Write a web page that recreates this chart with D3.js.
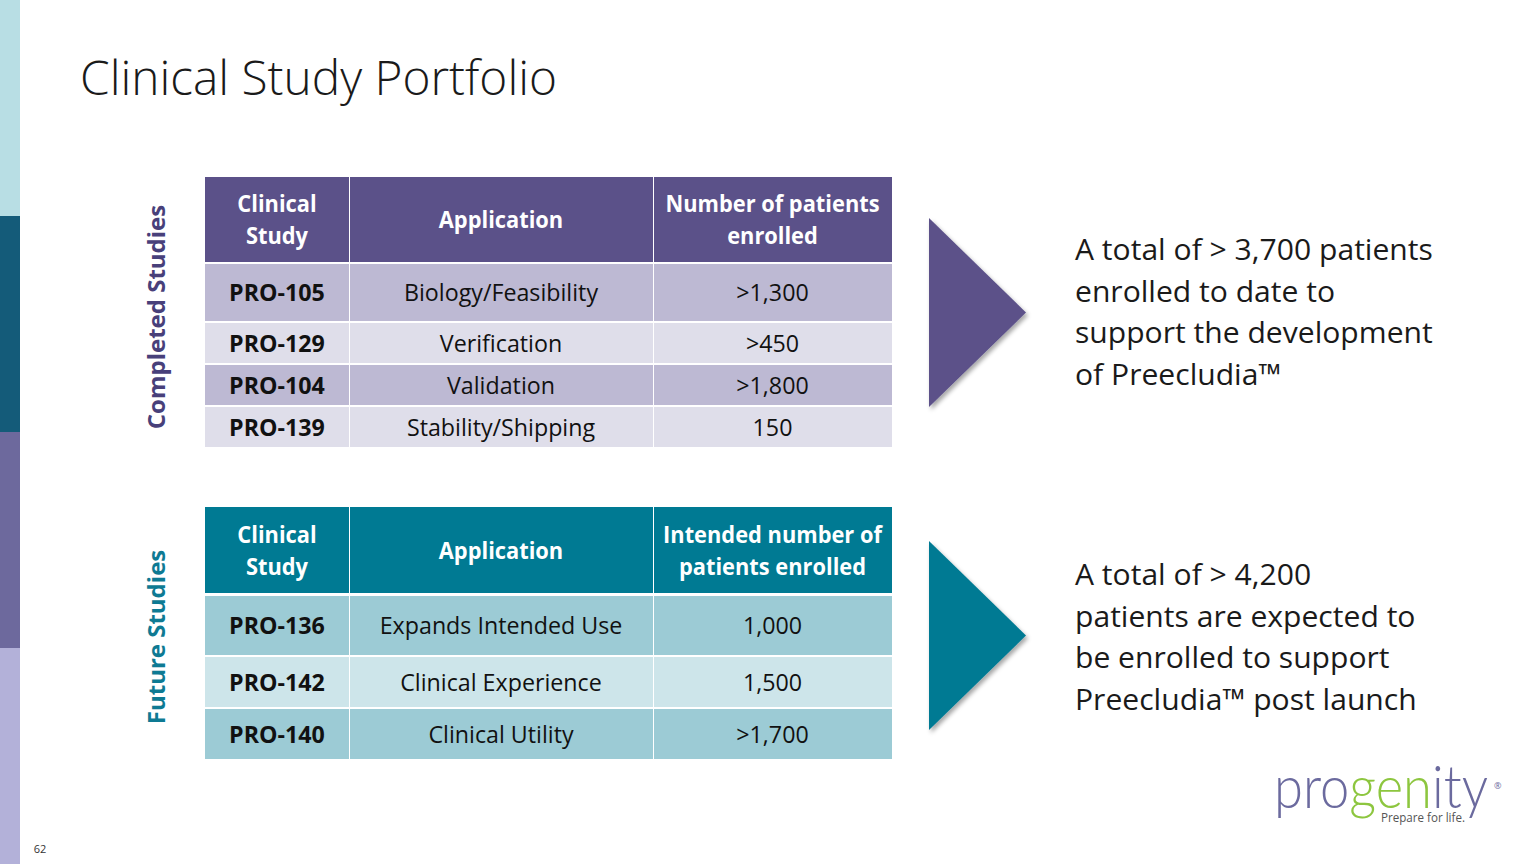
<!DOCTYPE html>
<html><head><meta charset="utf-8">
<script src="https://cdn.jsdelivr.net/npm/d3@7/dist/d3.min.js"></script>
<style>html,body{margin:0;padding:0;background:#fff;overflow:hidden}</style>
</head><body><svg id="c" width="1536" height="864"></svg>
<script>
// ---------- data ----------
const headersCompleted = [["Clinical","Study"],["Application"],["Number of patients","enrolled"]];
const completedStudies = ["PRO-105","PRO-129","PRO-104","PRO-139"];
const completedApps = ["Biology/Feasibility","Verification","Validation","Stability/Shipping"];
const completedPatients = [">1,300",">450",">1,800","150"];

const headersFuture = [["Clinical","Study"],["Application"],["Intended number of","patients enrolled"]];
const futureStudies = ["PRO-136","PRO-142","PRO-140"];
const futureApps = ["Expands Intended Use","Clinical Experience","Clinical Utility"];
const futurePatients = ["1,000","1,500",">1,700"];

const summaryCompleted = ["A total of > 3,700 patients","enrolled to date to","support the development","of Preecludia\u2122"];
const summaryFuture = ["A total of > 4,200","patients are expected to","be enrolled to support","Preecludia\u2122 post launch"];

const title = "Clinical Study Portfolio";
const sideLabels = ["Completed Studies","Future Studies"];
const pageNumber = "62";

// ---------- drawing ----------
const svg = d3.select("#c");
const FONT = "'Open Sans', 'Noto Sans', sans-serif";

function condense(sel, f) {
  sel.each(function () {
    const w = this.getComputedTextLength();
    d3.select(this).attr("textLength", w * f).attr("lengthAdjust", "spacingAndGlyphs");
  });
}

const defs = svg.append("defs");
const flt = defs.append("filter").attr("id", "sh").attr("x", "-20%").attr("y", "-20%").attr("width", "150%").attr("height", "150%");
flt.append("feDropShadow").attr("dx", 2).attr("dy", 3).attr("stdDeviation", 2).attr("flood-color", "#000").attr("flood-opacity", 0.35);

// left colour strip
const stripColors = ["#b8dee4", "#145b79", "#6d699d", "#b3b1d9"];
const stripY = d3.scaleBand().domain(d3.range(stripColors.length)).range([0, 864]);
svg.selectAll("rect.strip").data(stripColors).join("rect")
  .attr("x", 0).attr("y", (d, i) => stripY(i)).attr("width", 20).attr("height", stripY.bandwidth())
  .attr("fill", d => d);

// title
svg.append("text").attr("x", 80).attr("y", 95).text(title)
  .attr("font-family", FONT).attr("font-weight", 300).attr("font-size", 47).attr("fill", "#1a1a1a")
  .attr("textLength", 477).attr("lengthAdjust", "spacingAndGlyphs");

// page number
svg.append("text").attr("x", 40).attr("y", 853).attr("text-anchor", "middle").text(pageNumber)
  .attr("font-family", FONT).attr("font-size", 11).attr("fill", "#333");

// table builder
function table(cfg) {
  const g = svg.append("g");
  const colX = cfg.colEdges;
  const cols = d3.range(3);
  g.selectAll("rect.h").data(cols).join("rect")
    .attr("x", i => colX[i] + (i ? 1 : 0)).attr("y", cfg.headerY[0])
    .attr("width", i => colX[i + 1] - colX[i] - (i ? 1 : 0)).attr("height", cfg.headerY[1] - cfg.headerY[0])
    .attr("fill", cfg.headerColor);
  cols.forEach(i => {
    const lines = cfg.headers[i];
    const cx = (colX[i] + colX[i + 1]) / 2;
    const cy = (cfg.headerY[0] + cfg.headerY[1]) / 2;
    const lh = 32;
    const t = g.append("text").attr("text-anchor", "middle").attr("font-family", FONT)
      .attr("font-weight", 700).attr("font-size", 22.5).attr("fill", "#fff");
    lines.forEach((ln, k) => {
      t.append("tspan").attr("x", cx).attr("y", cy + 8.5 + (k - (lines.length - 1) / 2) * lh).text(ln);
    });
    t.selectAll("tspan").call(condense, 0.97);
  });
  const rows = cfg.studies.map((s, r) => ({ r, cells: [s, cfg.apps[r], cfg.patients[r]] }));
  rows.forEach(row => {
    const [y0, y1] = cfg.rowY[row.r];
    cols.forEach(i => {
      g.append("rect").attr("x", colX[i] + (i ? 1 : 0)).attr("y", y0)
        .attr("width", colX[i + 1] - colX[i] - (i ? 1 : 0)).attr("height", y1 - y0)
        .attr("fill", cfg.rowColors[row.r % 2]);
      g.append("text").attr("x", (colX[i] + colX[i + 1]) / 2).attr("y", (y0 + y1) / 2 + 8.5)
        .attr("text-anchor", "middle").attr("font-family", FONT)
        .attr("font-weight", i === 0 ? 700 : 400).attr("font-size", 23).attr("fill", "#111")
        .text(row.cells[i]).call(condense, 1.01);
    });
  });
}

table({
  colEdges: [205, 349, 653, 892],
  headerY: [177, 262],
  rowY: [[264, 321], [323, 363], [365, 405], [407, 447]],
  headers: headersCompleted,
  studies: completedStudies, apps: completedApps, patients: completedPatients,
  headerColor: "#5b5189",
  rowColors: ["#bdb9d3", "#dfdeea"]
});

table({
  colEdges: [205, 349, 653, 892],
  headerY: [507, 593],
  rowY: [[596, 655], [657, 707], [709, 759]],
  headers: headersFuture,
  studies: futureStudies, apps: futureApps, patients: futurePatients,
  headerColor: "#007a93",
  rowColors: ["#9ccbd5", "#cde5ea"]
});

// side labels
const sideCfg = [{ y: 317, color: "#48407a" }, { y: 637, color: "#0e7a93" }];
svg.selectAll("text.side").data(sideLabels).join("text")
  .attr("transform", (d, i) => `translate(165,${sideCfg[i].y}) rotate(-90)`)
  .attr("text-anchor", "middle").attr("font-family", FONT).attr("font-weight", 700)
  .attr("font-size", 24).attr("fill", (d, i) => sideCfg[i].color).text(d => d)
  .call(condense, 1.0);

// arrows
const arrows = [{ y0: 218, y1: 407, color: "#5b5189" }, { y0: 541, y1: 730, color: "#007a93" }];
svg.selectAll("path.arrow").data(arrows).join("path")
  .attr("d", a => d3.line()([[929, a.y0], [1026, (a.y0 + a.y1) / 2], [929, a.y1]]) + "Z")
  .attr("fill", a => a.color).attr("filter", "url(#sh)");

// summary texts
function summary(lines, y0) {
  const t = svg.append("text").attr("font-family", FONT).attr("font-size", 29.5).attr("fill", "#1a1a1a");
  lines.forEach((ln, k) => t.append("tspan").attr("x", 1075).attr("y", y0 + k * 41.5).text(ln));
  t.selectAll("tspan").call(condense, 1.02);
}
summary(summaryCompleted, 260);
summary(summaryFuture, 585);

// logo
const logo = svg.append("text").attr("x", 1274).attr("y", 808).attr("font-family", "Lato, 'Open Sans', sans-serif")
  .attr("font-weight", 300).attr("font-size", 60);
[["pro", "#6b6a9e"], ["gen", "#8dc63f"], ["ity", "#6b6a9e"]].forEach(([s, c]) => logo.append("tspan").attr("fill", c).text(s));
logo.attr("textLength", 214).attr("lengthAdjust", "spacingAndGlyphs");
svg.append("text").attr("x", 1494).attr("y", 789).text("\u00ae").attr("font-family", FONT).attr("font-size", 9).attr("fill", "#6b6a9e");
svg.append("text").attr("x", 1381).attr("y", 822).text("Prepare for life.").attr("font-family", FONT)
  .attr("font-size", 13).attr("fill", "#555").attr("textLength", 84).attr("lengthAdjust", "spacingAndGlyphs");
</script></body></html>
